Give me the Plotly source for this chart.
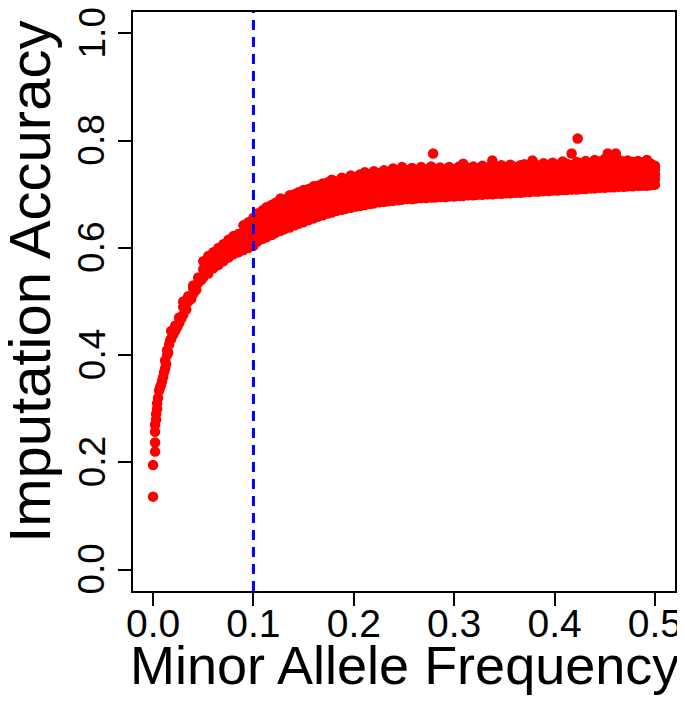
import plotly.graph_objects as go

# ---- data ----
# low-MAF region: (maf, accuracy) pairs
low_maf = [0.000, 0.000, 0.002, 0.002, 0.002, 0.002, 0.003, 0.003, 0.004, 0.004, 0.005,
           0.006, 0.007, 0.008, 0.009, 0.010, 0.011, 0.012, 0.012, 0.013, 0.014, 0.014,
           0.015, 0.016, 0.017, 0.018, 0.018, 0.020, 0.022, 0.022, 0.024, 0.026, 0.026,
           0.028, 0.030, 0.030, 0.030, 0.033, 0.035, 0.035, 0.038, 0.040, 0.040, 0.040,
           0.043, 0.045, 0.045, 0.048]
low_acc = [0.136, 0.195, 0.220, 0.237, 0.257, 0.270, 0.280, 0.290, 0.300, 0.310, 0.320,
           0.334, 0.340, 0.345, 0.352, 0.359, 0.368, 0.375, 0.390, 0.383, 0.400, 0.409,
           0.405, 0.420, 0.428, 0.430, 0.445, 0.438, 0.445, 0.455, 0.452, 0.460, 0.470,
           0.468, 0.475, 0.490, 0.500, 0.485, 0.500, 0.510, 0.505, 0.515, 0.525, 0.530,
           0.522, 0.535, 0.545, 0.540]

# columns of points: one MAF value with several accuracy values
col_maf = [0.050, 0.055, 0.060, 0.065, 0.070, 0.075, 0.080, 0.085, 0.090, 0.095, 0.100,
           0.104, 0.109, 0.113, 0.118, 0.122, 0.127, 0.131, 0.136, 0.141, 0.145, 0.150,
           0.155, 0.160, 0.164, 0.169, 0.174, 0.178, 0.183, 0.188, 0.192, 0.197, 0.202,
           0.206, 0.211, 0.216, 0.220, 0.225, 0.230, 0.234, 0.239, 0.244, 0.248, 0.253,
           0.258, 0.262, 0.267, 0.272, 0.277, 0.281, 0.286, 0.291, 0.295, 0.300, 0.305,
           0.309, 0.314, 0.319, 0.323, 0.328, 0.333, 0.338, 0.342, 0.347, 0.352, 0.356,
           0.361, 0.366, 0.370, 0.375, 0.380, 0.384, 0.389, 0.394, 0.398, 0.403, 0.408,
           0.412, 0.417, 0.422, 0.426, 0.431, 0.436, 0.440, 0.445, 0.450, 0.455, 0.459,
           0.464, 0.469, 0.473, 0.478, 0.483, 0.487, 0.492, 0.496, 0.500]
col_acc = [
    [0.545, 0.560, 0.575], [0.552, 0.568, 0.585], [0.562, 0.578, 0.592],
    [0.568, 0.585, 0.600], [0.575, 0.592, 0.607], [0.582, 0.598, 0.615],
    [0.588, 0.604, 0.622], [0.592, 0.608, 0.626], [0.596, 0.612, 0.628, 0.642],
    [0.600, 0.617, 0.633, 0.648], [0.604, 0.622, 0.640, 0.656],
    [0.612, 0.625, 0.640, 0.652, 0.664], [0.617, 0.632, 0.645, 0.660, 0.670],
    [0.620, 0.634, 0.650, 0.663, 0.676], [0.624, 0.640, 0.652, 0.668, 0.680],
    [0.628, 0.641, 0.657, 0.670, 0.684], [0.632, 0.647, 0.660, 0.676, 0.692],
    [0.635, 0.648, 0.665, 0.679, 0.690], [0.638, 0.654, 0.667, 0.684, 0.698],
    [0.642, 0.655, 0.672, 0.686, 0.700], [0.645, 0.661, 0.674, 0.691, 0.704],
    [0.648, 0.662, 0.679, 0.693, 0.708], [0.652, 0.668, 0.681, 0.697, 0.710],
    [0.655, 0.669, 0.686, 0.699, 0.715], [0.658, 0.674, 0.687, 0.703, 0.716],
    [0.661, 0.675, 0.692, 0.705, 0.720], [0.664, 0.680, 0.693, 0.709, 0.722],
    [0.666, 0.680, 0.697, 0.710, 0.727], [0.669, 0.685, 0.698, 0.714, 0.724],
    [0.671, 0.685, 0.702, 0.715, 0.731], [0.673, 0.689, 0.702, 0.718, 0.728],
    [0.675, 0.689, 0.706, 0.719, 0.735], [0.677, 0.693, 0.706, 0.722, 0.732],
    [0.678, 0.692, 0.709, 0.722, 0.737], [0.680, 0.696, 0.709, 0.725, 0.741],
    [0.682, 0.695, 0.712, 0.725, 0.737], [0.683, 0.699, 0.712, 0.728, 0.743],
    [0.685, 0.698, 0.715, 0.728, 0.739], [0.686, 0.702, 0.715, 0.731, 0.745],
    [0.687, 0.700, 0.717, 0.730, 0.741], [0.688, 0.704, 0.717, 0.733, 0.748],
    [0.689, 0.702, 0.719, 0.732, 0.743], [0.690, 0.706, 0.719, 0.735, 0.751],
    [0.691, 0.704, 0.721, 0.733, 0.745], [0.691, 0.707, 0.720, 0.736, 0.749],
    [0.692, 0.705, 0.722, 0.734, 0.745], [0.693, 0.709, 0.722, 0.738, 0.751],
    [0.693, 0.706, 0.723, 0.736, 0.746], [0.694, 0.710, 0.723, 0.739, 0.752],
    [0.694, 0.707, 0.724, 0.737, 0.747], [0.695, 0.711, 0.724, 0.740, 0.750],
    [0.695, 0.708, 0.725, 0.738, 0.746], [0.696, 0.712, 0.725, 0.741, 0.751],
    [0.696, 0.709, 0.726, 0.739, 0.747], [0.697, 0.713, 0.726, 0.742, 0.752],
    [0.697, 0.710, 0.727, 0.740, 0.757], [0.698, 0.714, 0.727, 0.743, 0.749],
    [0.698, 0.711, 0.728, 0.741, 0.752], [0.699, 0.715, 0.728, 0.744, 0.748],
    [0.699, 0.712, 0.729, 0.742, 0.753], [0.700, 0.716, 0.729, 0.745, 0.750],
    [0.700, 0.713, 0.730, 0.743, 0.763], [0.701, 0.717, 0.730, 0.746, 0.751],
    [0.701, 0.714, 0.731, 0.744, 0.754], [0.702, 0.718, 0.731, 0.747, 0.750],
    [0.702, 0.715, 0.732, 0.745, 0.755], [0.703, 0.719, 0.732, 0.748, 0.751],
    [0.703, 0.716, 0.733, 0.746, 0.754], [0.704, 0.720, 0.733, 0.749, 0.756],
    [0.704, 0.717, 0.734, 0.747, 0.752], [0.705, 0.721, 0.734, 0.750, 0.757],
    [0.705, 0.718, 0.735, 0.748, 0.753], [0.706, 0.722, 0.735, 0.751, 0.758],
    [0.706, 0.719, 0.736, 0.749, 0.754], [0.707, 0.723, 0.736, 0.752, 0.759],
    [0.707, 0.720, 0.737, 0.750, 0.755], [0.708, 0.724, 0.737, 0.753, 0.761],
    [0.708, 0.721, 0.738, 0.751, 0.757], [0.709, 0.725, 0.738, 0.754, 0.776],
    [0.709, 0.722, 0.739, 0.752, 0.760], [0.710, 0.726, 0.739, 0.755, 0.758],
    [0.710, 0.723, 0.740, 0.753, 0.762], [0.711, 0.727, 0.740, 0.756, 0.759],
    [0.711, 0.724, 0.741, 0.754, 0.764], [0.712, 0.728, 0.741, 0.757, 0.761],
    [0.712, 0.725, 0.742, 0.755, 0.766], [0.713, 0.729, 0.742, 0.758, 0.763],
    [0.713, 0.726, 0.743, 0.756, 0.767], [0.714, 0.730, 0.743, 0.758, 0.764],
    [0.714, 0.727, 0.743, 0.755, 0.761], [0.715, 0.730, 0.742, 0.756, 0.763],
    [0.715, 0.727, 0.742, 0.753, 0.760], [0.716, 0.730, 0.741, 0.754, 0.762],
    [0.716, 0.727, 0.740, 0.751, 0.759], [0.716, 0.729, 0.739, 0.752, 0.764],
    [0.717, 0.727, 0.738, 0.749, 0.757], [0.718, 0.728, 0.737, 0.746, 0.753],
]

# isolated high points
out_maf = [0.279, 0.378, 0.423, 0.453, 0.461, 0.492]
out_acc = [0.776, 0.763, 0.804, 0.776, 0.776, 0.763]

maf_cutoff = 0.1
x_ticks = [0.0, 0.1, 0.2, 0.3, 0.4, 0.5]
y_ticks = [0.0, 0.2, 0.4, 0.6, 0.8, 1.0]
y_tick_labels = ["0.0", "0.2", "0.4", "0.6", "0.8", "1.0"]

# ---- build flat point lists ----
xs = list(low_maf)
ys = list(low_acc)
for m, accs in zip(col_maf, col_acc):
    for a in accs:
        xs.append(m)
        ys.append(a)
xs += out_maf
ys += out_acc

fig = go.Figure()
fig.add_trace(go.Scatter(
    x=xs, y=ys, mode="markers",
    marker=dict(color="#FF0000", size=10.5, line=dict(width=0)),
    hoverinfo="skip", showlegend=False,
))

fig.add_shape(type="line", x0=maf_cutoff, x1=maf_cutoff, y0=0, y1=1,
              xref="x", yref="paper",
              line=dict(color="#0000FF", width=3, dash="10px,7px"))

font_family = "Liberation Sans, Arial, sans-serif"
axis_common = dict(showline=True, linecolor="black", linewidth=2, mirror=True,
                   ticks="outside", ticklen=13, tickwidth=2, tickcolor="black",
                   showgrid=False, zeroline=False, ticklabeloverflow="allow")

fig.update_xaxes(range=[-0.02, 0.52], tickvals=x_ticks,
                 ticktext=[f"{v:.1f}" for v in x_ticks],
                 tickfont=dict(family=font_family, size=39, color="black"),
                 ticklabelstandoff=-16, **axis_common)
fig.update_yaxes(range=[-0.04, 1.04], tickvals=y_ticks,
                 showticklabels=False, **axis_common)

# vertical y tick labels, centred on their ticks
for v, lab in zip(y_ticks, y_tick_labels):
    fig.add_annotation(text=lab, xref="paper", yref="y", x=-0.0756, y=v,
                       xanchor="center", yanchor="middle", textangle=-90,
                       showarrow=False, borderpad=0,
                       font=dict(family=font_family, size=37, color="black"))

title_font = dict(family=font_family, size=54, color="black")
fig.add_annotation(text="Minor Allele Frequency", xref="paper", yref="paper",
                   x=0.5, y=-0.128, xanchor="center", yanchor="middle",
                   showarrow=False, font=title_font)
fig.add_annotation(text="Imputation Accuracy", xref="paper", yref="paper",
                   x=-0.19, y=0.534, xanchor="center", yanchor="middle",
                   textangle=-90, showarrow=False, font=dict(title_font, size=58))

# the page puts the figure 8px in from the top-left corner
fig.update_layout(width=677, height=698,
                  margin=dict(l=125, r=10, t=4, b=115, autoexpand=False),
                  paper_bgcolor="white", plot_bgcolor="white")

fig.write_html("out.html")
